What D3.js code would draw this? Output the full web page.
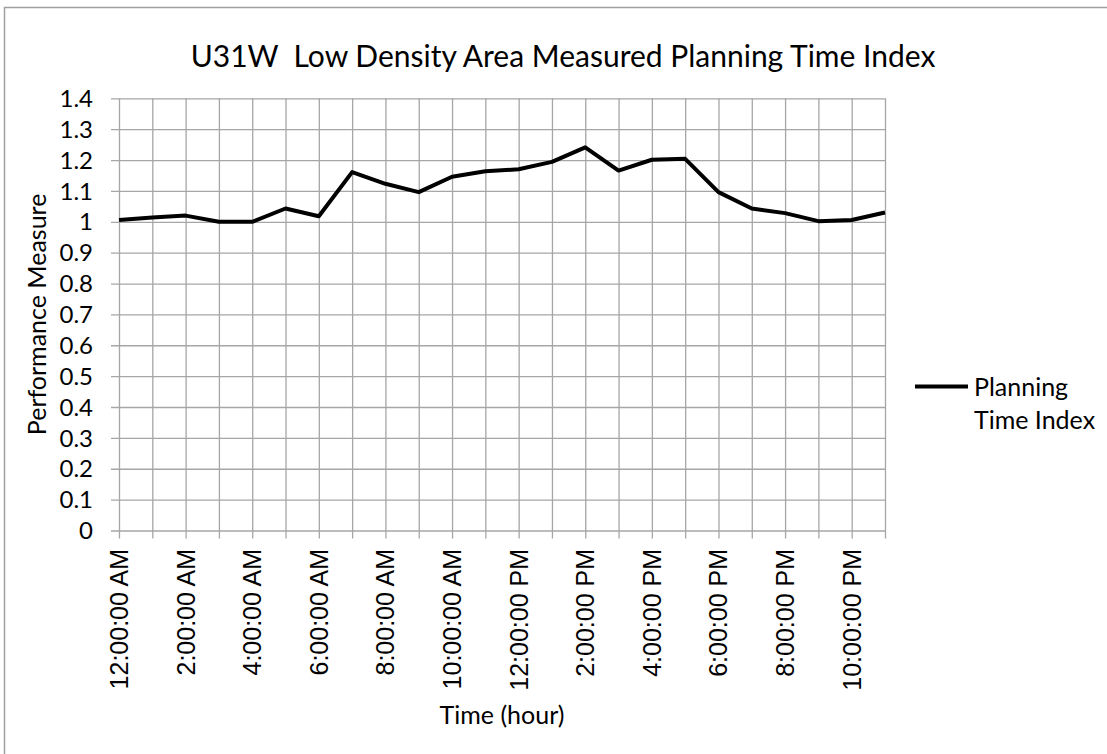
<!DOCTYPE html>
<html>
<head>
<meta charset="utf-8">
<script src="https://cdnjs.cloudflare.com/ajax/libs/d3/7.8.5/d3.min.js"></script>
<style>
  body { margin: 0; background: #fff; }
  svg { display: block; }
</style>
</head>
<body>
<div id="chart"></div>
<script>
// Hourly planning time index (hours 0..23)
const hours = d3.range(0, 24);
const hourLabels = ['12:00:00 AM', '', '2:00:00 AM', '', '4:00:00 AM', '', '6:00:00 AM', '', '8:00:00 AM', '',
    '10:00:00 AM', '', '12:00:00 PM', '', '2:00:00 PM', '', '4:00:00 PM', '', '6:00:00 PM', '', '8:00:00 PM', '',
    '10:00:00 PM', ''];
const ptiValues = [1.006, 1.014, 1.020, 1.000, 1.000, 1.043, 1.018, 1.161, 1.123, 1.096, 1.146, 1.164,
    1.170, 1.194, 1.241, 1.166, 1.201, 1.204, 1.096, 1.043, 1.028, 1.002, 1.006, 1.030];
const yTicks = [0, 0.1, 0.2, 0.3, 0.4, 0.5, 0.6, 0.7, 0.8, 0.9, 1, 1.1, 1.2, 1.3, 1.4];

const width = 1107, height = 754;
const calibri = 'Lato, "Open Sans", sans-serif';
const arial = '"Liberation Sans", Arial, sans-serif';

const svg = d3.select('#chart').append('svg')
    .attr('width', width)
    .attr('height', height);

// outer chart frame (runs past the right/bottom edges)
svg.append('rect')
    .attr('x', 4.5).attr('y', 7.5)
    .attr('width', width + 20).attr('height', height + 20)
    .attr('fill', '#fff')
    .attr('stroke', '#a0a0a0')
    .attr('stroke-width', 1.5);

const plot = { left: 119, right: 885, top: 98.3, bottom: 530.5 };

const x = d3.scaleLinear().domain([0, 23]).range([plot.left, plot.right]);
const y = d3.scaleLinear().domain([0, 1.4]).range([plot.bottom, plot.top]);

const gridColor = '#a6a6a6';

// horizontal gridlines + y ticks (extend left 8px)
svg.append('g')
    .attr('transform', `translate(${plot.left},0)`)
    .call(d3.axisLeft(y).tickValues(yTicks).tickSize(-(plot.right - plot.left)).tickSizeOuter(0).tickFormat(''))
    .call(g => g.select('.domain').remove())
    .call(g => g.selectAll('.tick line').attr('stroke', gridColor).attr('stroke-width', 1.3).attr('x1', -8));

// vertical gridlines
svg.append('g')
    .attr('transform', `translate(0,${plot.bottom})`)
    .call(d3.axisBottom(x).tickValues(hours).tickSize(-(plot.bottom - plot.top)).tickSizeOuter(0).tickFormat(''))
    .call(g => g.select('.domain').remove())
    .call(g => g.selectAll('.tick line').attr('stroke', gridColor).attr('stroke-width', 1.3).attr('y1', 8));

// y tick labels
svg.append('g')
    .selectAll('text')
    .data(yTicks)
    .join('text')
    .attr('x', 93)
    .attr('y', d => y(d))
    .attr('dy', '0.36em')
    .attr('text-anchor', 'end')
    .attr('font-family', calibri)
    .attr('font-size', 24)
    .attr('fill', '#000')
    .text(d => d);

// x tick labels, rotated
svg.append('g')
    .selectAll('text')
    .data(hours.filter(h => hourLabels[h] !== ''))
    .join('text')
    .attr('transform', d => `translate(${x(d)},549) rotate(-90)`)
    .attr('dy', '0.36em')
    .attr('text-anchor', 'end')
    .attr('font-family', arial)
    .attr('font-size', 25)
    .attr('fill', '#000')
    .text(d => hourLabels[d]);

// data line
const line = d3.line()
    .x((d, i) => x(hours[i]))
    .y(d => y(d));

svg.append('path')
    .datum(ptiValues)
    .attr('d', line)
    .attr('fill', 'none')
    .attr('stroke', '#000')
    .attr('stroke-width', 4)
    .attr('stroke-linejoin', 'round');

// title
svg.append('text')
    .attr('x', 563)
    .attr('y', 67)
    .attr('text-anchor', 'middle')
    .attr('font-family', calibri)
    .attr('font-size', 30)
    .attr('fill', '#000')
    .style('white-space', 'pre')
    .text('U31W  Low Density Area Measured Planning Time Index');

// axis titles
svg.append('text')
    .attr('transform', `translate(46,${(plot.top + plot.bottom) / 2}) rotate(-90)`)
    .attr('text-anchor', 'middle')
    .attr('font-family', calibri)
    .attr('font-size', 25)
    .attr('fill', '#000')
    .text('Performance Measure');

svg.append('text')
    .attr('x', 502)
    .attr('y', 724)
    .attr('text-anchor', 'middle')
    .attr('font-family', calibri)
    .attr('font-size', 25)
    .attr('fill', '#000')
    .text('Time (hour)');

// legend
svg.append('line')
    .attr('x1', 915).attr('x2', 968)
    .attr('y1', 386.5).attr('y2', 386.5)
    .attr('stroke', '#000')
    .attr('stroke-width', 4);

svg.append('text')
    .attr('font-family', calibri)
    .attr('font-size', 25)
    .attr('fill', '#000')
    .selectAll('tspan')
    .data(['Planning', 'Time Index'])
    .join('tspan')
    .attr('x', 974)
    .attr('y', (d, i) => 396 + i * 33)
    .text(d => d);
</script>
</body>
</html>
